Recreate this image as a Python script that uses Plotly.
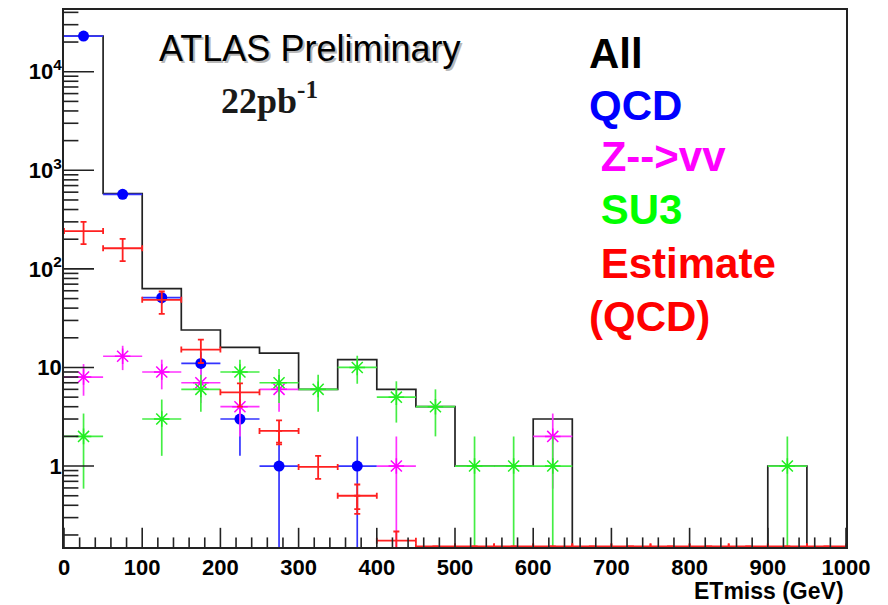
import numpy as np
import plotly.graph_objects as go

# ---------------- data ----------------
bin_edges = list(range(0, 1001, 50))

# "All" histogram (black step line), counts per 50 GeV bin
all_counts = [23010, 582, 63, 24, 16, 14, 6, 12, 6, 4, 1, 1, 3, 0, 0, 0, 0, 0, 1, 0]

# QCD (blue points)
qcd_x = [25, 75, 125, 175, 225, 275, 375]
qcd_y = [23000, 570, 51, 11, 3, 1, 1]
qcd_err = [152, 24, 7.1, 3.3, 1.73, 1.0, 1.0]

# Z-->vv (magenta)
z_x = [25, 75, 125, 175, 225, 275, 425, 625]
z_y = [8, 13, 9, 7, 4, 6, 1, 2]
z_err = [2.83, 3.6, 3.0, 2.65, 2.0, 2.45, 1.0, 1.41]

# SU3 (green)
su3_x = [25, 125, 175, 225, 275, 325, 375, 425, 475, 525, 575, 625, 925]
su3_y = [2, 3, 6, 9, 7, 6, 10, 5, 4, 1, 1, 1, 1]
su3_err = [1.41, 1.73, 2.45, 3.0, 2.65, 2.45, 3.16, 2.24, 2.0, 1.0, 1.0, 1.0, 1.0]

# Estimate (QCD) (red), asymmetric errors
est_x = [25, 75, 125, 175, 225, 275, 325, 375, 425,
         475, 525, 575, 625, 675, 725, 775, 825, 875, 925, 975]
est_y = [242, 162, 48.6, 15.2, 5.6, 2.27, 0.98, 0.50, 0.175,
         0.153, 0.153, 0.153, 0.153, 0.153, 0.153, 0.153, 0.153, 0.153, 0.153, 0.153]
est_err_up = [58, 40, 10.4, 4.0, 1.3, 0.63, 0.29, 0.15, 0.042,
              0, 0, 0, 0, 0, 0, 0, 0, 0, 0, 0]
est_err_dn = [64, 42, 13.7, 4.1, 1.6, 0.61, 0.24, 0.135, 0.174,
              0, 0, 0, 0, 0, 0, 0, 0, 0, 0, 0]
# second (inner) lower error component visible as double caps
est2_x = [275, 375]
est2_y = [2.27, 0.50]
est2_err_dn = [0.54, 0.173]

# axis ticks
y_tickvals = [1, 10, 100, 1000, 10000]
y_ticktext = ["1", "10", "10<sup>2</sup>", "10<sup>3</sup>", "10<sup>4</sup>"]
y_minorvals = [k * 10.0 ** d for d in range(-1, 5) for k in range(2, 10)]
x_tickvals = list(range(0, 1001, 100))
x_minorvals = [v for v in range(0, 1001, 20) if v % 100]

# ---------------- figure ----------------
W, H = 888, 605
L, R, T, B = 64, 42, 8, 58
PW, PH = W - L - R, H - T - B
XRANGE = [0, 1000]
YRANGE = [-0.821, 4.626]
X_PER_PX = (XRANGE[1] - XRANGE[0]) / PW          # data units per pixel on x
DEC_PER_PX = (YRANGE[1] - YRANGE[0]) / PH        # decades per pixel on y


def px(x):
    return (x - L) / PW


def py(y):
    return (H - B - y) / PH


FONT = "Liberation Sans, Arial, sans-serif"
fig = go.Figure()

# All (black step histogram)
hist_y = [v if v > 0 else 1e-3 for v in all_counts] + [1e-3]
fig.add_trace(go.Scatter(
    x=bin_edges, y=hist_y, mode="lines", line=dict(shape="hv", color="#222222", width=1.7),
    hoverinfo="skip", showlegend=False))

# QCD
fig.add_trace(go.Scatter(
    x=qcd_x, y=qcd_y, mode="markers",
    marker=dict(symbol="circle", size=11, color="#0000ff"),
    error_x=dict(type="constant", value=25, color="#3333ff", thickness=1.7, width=0),
    error_y=dict(type="data", array=qcd_err, color="#3333ff", thickness=1.7, width=0),
    showlegend=False))

# Z-->vv
fig.add_trace(go.Scatter(
    x=z_x, y=z_y, mode="markers",
    marker=dict(symbol="asterisk-open", size=13, color="#ff00ff", line=dict(color="#ff00ff", width=1.5)),
    error_x=dict(type="constant", value=25, color="#ff33ff", thickness=1.7, width=0),
    error_y=dict(type="data", array=z_err, color="#ff33ff", thickness=1.7, width=0),
    showlegend=False))

# SU3
fig.add_trace(go.Scatter(
    x=su3_x, y=su3_y, mode="markers",
    marker=dict(symbol="asterisk-open", size=13, color="#22ee22", line=dict(color="#22ee22", width=1.5)),
    error_x=dict(type="constant", value=25, color="#44ee44", thickness=1.7, width=0),
    error_y=dict(type="data", array=su3_err, color="#44ee44", thickness=1.7, width=0),
    showlegend=False))

# Estimate (QCD)
fig.add_trace(go.Scatter(
    x=est_x, y=est_y, mode="markers",
    marker=dict(size=1, color="rgba(255,0,0,0)"),
    error_x=dict(type="constant", value=25, color="#ff2020", thickness=1.8, width=3),
    error_y=dict(type="data", symmetric=False, array=est_err_up, arrayminus=est_err_dn,
                 color="#ff2020", thickness=1.8, width=3),
    showlegend=False))
fig.add_trace(go.Scatter(
    x=est2_x, y=est2_y, mode="markers",
    marker=dict(size=1, color="rgba(255,0,0,0)"),
    error_y=dict(type="data", symmetric=False, array=[0, 0], arrayminus=est2_err_dn,
                 color="#ff2020", thickness=1.8, width=3),
    showlegend=False))

# ---- ROOT-style inside tick marks, drawn as line-shaped markers on the axis scales ----
ylo = 10 ** YRANGE[0]
for vals, ln in [(x_tickvals, 16), (x_minorvals, 8)]:
    fig.add_trace(go.Scatter(
        x=vals, y=[ylo * 10 ** (ln / 2 * DEC_PER_PX)] * len(vals), mode="markers",
        marker=dict(symbol="line-ns-open", size=ln, color="#222222",
                    line=dict(color="#222222", width=1.6)),
        hoverinfo="skip", showlegend=False))
y_minor_in = [v for v in y_minorvals if ylo < v < 10 ** YRANGE[1]]
for vals, ln in [(y_tickvals, 25), (y_minor_in, 12)]:
    fig.add_trace(go.Scatter(
        x=[XRANGE[0] + ln / 2 * X_PER_PX] * len(vals), y=vals, mode="markers",
        marker=dict(symbol="line-ew-open", size=ln, color="#222222",
                    line=dict(color="#222222", width=1.6)),
        hoverinfo="skip", showlegend=False))

fig.update_xaxes(range=XRANGE, tickmode="array", tickvals=x_tickvals, ticks="",
                 tickfont=dict(family=FONT, size=22, color="black", weight="bold"),
                 showline=True, linecolor="#222222", linewidth=1.7, mirror=True,
                 showgrid=False, zeroline=False)
fig.update_yaxes(type="log", range=YRANGE, tickmode="array",
                 tickvals=y_tickvals, ticktext=y_ticktext, ticks="",
                 tickfont=dict(family=FONT, size=22, color="black", weight="bold"),
                 ticklabelstandoff=-4,
                 showline=True, linecolor="#222222", linewidth=1.7, mirror=True,
                 showgrid=False, zeroline=False)

annotations = []
# x title
annotations.append(dict(text="<b>ETmiss (GeV)</b>", x=px(846), y=py(591), xref="paper", yref="paper",
                        xanchor="right", yanchor="middle", showarrow=False,
                        font=dict(family=FONT, size=23, color="black")))
# ATLAS Preliminary (with soft shadow)
for dx, dy, col in [(1.5, 1.5, "#b8b8b8"), (0, 0, "black")]:
    annotations.append(dict(text="ATLAS Preliminary", x=px(157 + dx), y=py(47 + dy), xref="paper", yref="paper",
                            xanchor="left", yanchor="middle", showarrow=False,
                            font=dict(family=FONT, size=36, color=col)))
annotations.append(dict(text="<b>22pb<sup>-1</sup></b>", x=px(219), y=py(97), xref="paper", yref="paper",
                        xanchor="left", yanchor="middle", showarrow=False,
                        font=dict(family="Liberation Serif, Times New Roman, serif", size=36, color="#1a1a1a")))
# coloured legend text
legend_lines = [("All", "black", 587, 52), ("QCD", "#0000ff", 587, 104),
                (" Z-->vv", "#ff00ff", 587, 155), (" SU3", "#00ff00", 587, 208),
                (" Estimate", "#ff0000", 587, 262), ("(QCD)", "#ff0000", 587, 316)]
for txt, col, lx, ly in legend_lines:
    annotations.append(dict(text="<b>" + txt.replace(" ", "&nbsp;") + "</b>", x=px(lx), y=py(ly),
                            xref="paper", yref="paper", xanchor="left", yanchor="middle",
                            showarrow=False, font=dict(family=FONT, size=42, color=col)))

fig.update_layout(width=W, height=H, autosize=False,
                  margin=dict(l=L, r=R, t=T, b=B, pad=0),
                  paper_bgcolor="white", plot_bgcolor="white",
                  annotations=annotations, showlegend=False)

fig.write_html("out.html")
